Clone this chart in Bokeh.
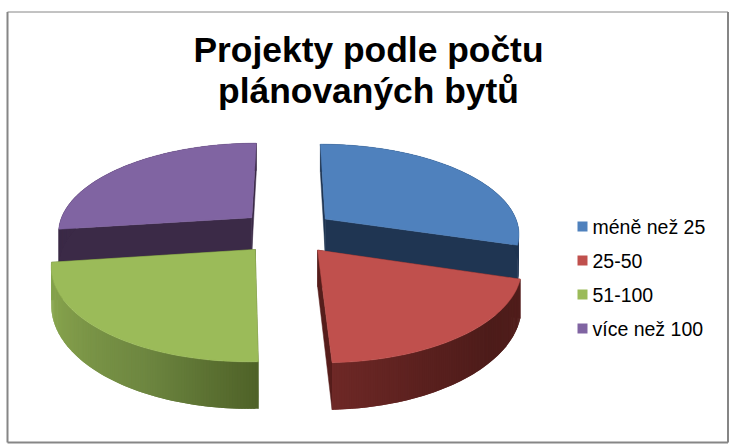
import math
from bokeh.plotting import figure
from bokeh.models import Range1d
from bokeh.core.properties import value
from bokeh.embed import file_html
from bokeh.resources import INLINE

title_lines = ["Projekty podle počtu", "plánovaných bytů"]
categories = ["méně než 25", "25-50", "51-100", "více než 100"]
shares = [29.7, 19.7, 23.5, 27.1]
top_colors = ["#4f81bd", "#c0504d", "#9bbb59", "#8064a2"]
inner_colors = ["#1f3552", "#561d1b", "#4f6228", "#3b2a47"]
outer_stops = [
    ["#1f3552", "#1f3552"],
    ["#521e1c", "#4d1c1a", "#5a201e", "#6e2826"],
    ["#4f6228", "#6d8640", "#7f9a49", "#8cab50"],
    ["#3b2a47", "#3b2a47"],
]

W, H = 730, 445
CX, CY, RX, RY, K, DEPTH, EXPL = 286.75, 231.5, 195.0, 89.7, 0.15, 35.0, 0.2475


def project(u, v):
    s = 1 / (1 + K * v)
    return CX + RX * u * s, CY - RY * v * s, DEPTH * s ** 1.5


def mix(a, b, t):
    ca = [int(a[i:i + 2], 16) for i in (1, 3, 5)]
    cb = [int(b[i:i + 2], 16) for i in (1, 3, 5)]
    return "#%02x%02x%02x" % tuple(round(x + (y - x) * t) for x, y in zip(ca, cb))


def ramp(stops, t):
    pos = t * (len(stops) - 1)
    i = min(int(pos), len(stops) - 2)
    return mix(stops[i], stops[i + 1], pos - i)


p = figure(width=W, height=H, output_backend="svg", toolbar_location=None,
           x_range=Range1d(0, W), y_range=Range1d(H, 0), min_border=0,
           outline_line_color=None, border_fill_color="white",
           background_fill_color="white")
p.axis.visible = False
p.grid.visible = False

# frame of the chart area: thin on top, heavier on the other three sides
FL, FT, FR, FB = 7, 11.5, 727.5, 442
p.line([FL, FR], [FT, FT], line_color="#868686", line_width=1)
p.multi_line([[FL, FL], [FR, FR], [FL, FR]], [[FT, FB], [FT, FB], [FB, FB]],
             line_color="#868686", line_width=2)

# slices
total = sum(shares)
spans = []
a = 0.0
for s in shares:
    spans.append((a, a + s / total * 360))
    a += s / total * 360

for i in [3, 0, 2, 1]:
    a0, a1 = spans[i]
    mid = math.radians((a0 + a1) / 2)
    ou, ov = EXPL * math.sin(mid), EXPL * math.cos(mid)
    n = 120
    arc = []
    for j in range(n + 1):
        th = math.radians(a0 + (a1 - a0) * j / n)
        arc.append(project(ou + math.sin(th), ov + math.cos(th)))
    ax, ay, ad = project(ou, ov)

    # the two straight inner walls
    for e in (arc[0], arc[-1]):
        p.patch([ax, e[0], e[0], ax], [ay, e[1], e[1] + e[2], ay + ad],
                fill_color=inner_colors[i], line_color=inner_colors[i], line_width=0.5)

    # outer wall as shaded strips, each overlapping the next so that no seam shows
    xs, ys, cols = [], [], []
    for j in range(n):
        q0, q1 = arc[j], arc[min(j + 2, n)]
        xs.append([q0[0], q1[0], q1[0], q0[0]])
        ys.append([q0[1], q1[1], q1[1] + q1[2], q0[1] + q0[2]])
        cols.append(ramp(outer_stops[i], j / (n - 1)))
    p.patches(xs, ys, fill_color=cols, line_color=None)

    # top face
    p.patch([ax] + [q[0] for q in arc], [ay] + [q[1] for q in arc],
            fill_color=top_colors[i], line_color=top_colors[i], line_width=0.5)

# title
p.text([368, 368], [49, 90], text=title_lines, text_font=value("Liberation Sans"),
       text_font_style="bold", text_font_size="35.4px", text_align="center",
       text_baseline="middle", text_color="black")

# legend
leg_y = [226, 260, 294, 328]
p.rect([582] * 4, leg_y, width=10, height=10, fill_color=top_colors, line_color=None)
p.text([592] * 4, leg_y, text=categories, text_font=value("Liberation Sans"),
       text_font_size="19.5px", text_align="left", text_baseline="middle", text_color="black")

open("out.html", "w").write(file_html(p, INLINE))
